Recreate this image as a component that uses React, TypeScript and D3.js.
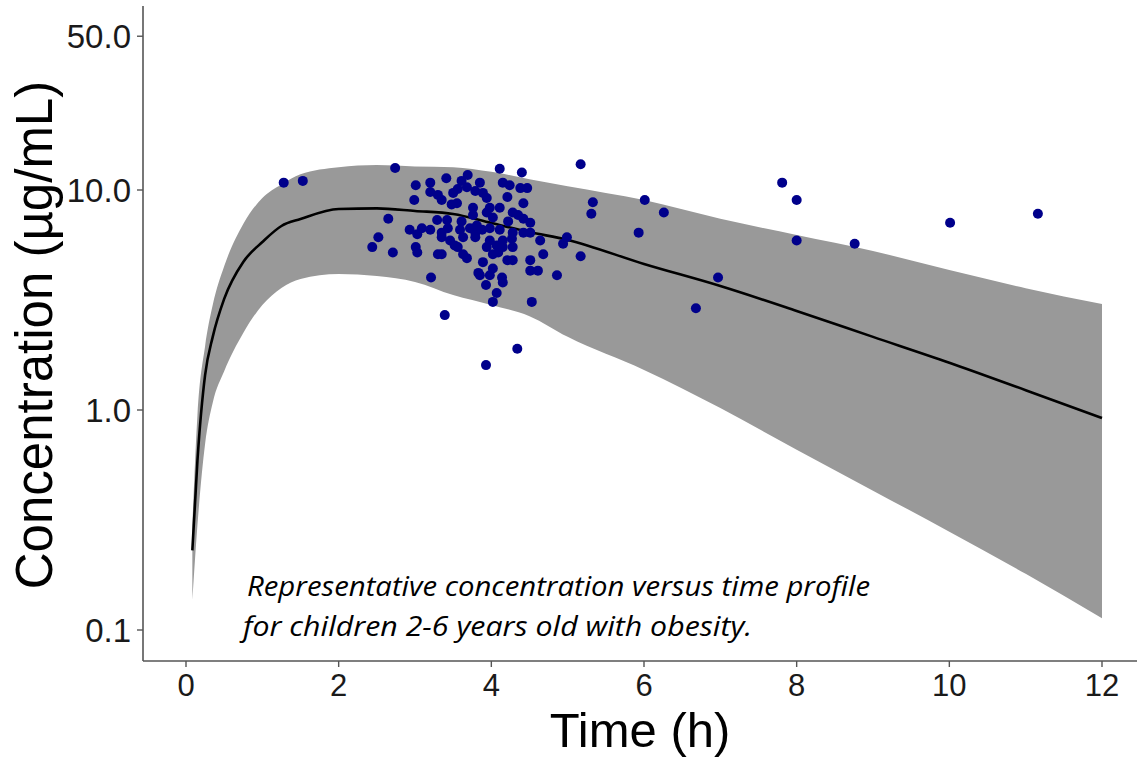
import React from 'react';
import * as d3 from 'd3';

// Simulated profile (time in h, concentration in µg/mL)
const times = [0.083, 0.15, 0.25, 0.35, 0.5, 0.75, 1, 1.25, 1.5, 2, 2.5, 3, 3.5, 4, 4.5, 5, 6, 7, 8, 9, 10, 11, 12];
const median = [0.23, 0.59, 1.44, 2.15, 3.2, 4.71, 5.8, 6.86, 7.38, 8.2, 8.25, 8.03, 7.78, 7.08, 6.44, 5.93, 4.61, 3.66, 2.82, 2.15, 1.64, 1.23, 0.92];
const upper = [0.3, 0.95, 1.95, 3.0, 4.5, 7.0, 9.2, 10.6, 11.8, 12.7, 13.0, 12.8, 12.7, 12.1, 11.2, 10.4, 9.0, 7.4, 6.24, 5.28, 4.33, 3.58, 3.03];
const lower = [0.137, 0.3, 0.7, 1.08, 1.5, 2.24, 3.0, 3.59, 3.94, 4.15, 4.06, 3.82, 3.33, 3.0, 2.67, 2.15, 1.52, 1.02, 0.66, 0.43, 0.28, 0.18, 0.113];

// Observed data
const obsTime = [
  1.28, 1.53, 2.74, 2.44, 2.52, 2.65, 2.71, 2.93, 2.99, 3.01, 3.03, 3.01, 3.03, 3.09, 3.2, 3.2, 3.2, 3.21,
  3.29, 3.3, 3.3, 3.35, 3.35, 3.35, 3.35, 3.41, 3.42, 3.43, 3.46, 3.39, 3.48, 3.5, 3.52, 3.55, 3.56, 3.56,
  3.59, 3.61, 3.61, 3.63, 3.63, 3.69, 3.68, 3.68, 3.72, 3.76, 3.76, 3.79, 3.79, 3.79, 3.81, 3.83, 3.85, 3.85,
  3.88, 3.89, 3.89, 3.93, 3.94, 3.94, 3.94, 3.98, 3.98, 3.98, 3.98, 4.02, 4.02, 4.02, 4.02, 4.07, 4.07, 4.09,
  4.11, 4.11, 4.11, 4.14, 4.15, 4.15, 4.15, 4.15, 4.21, 4.21, 4.22, 4.24, 4.27, 4.28, 4.28, 4.28, 4.28, 4.34,
  4.35, 4.38, 4.4, 4.42, 4.42, 4.42, 4.47, 4.51, 4.51, 4.51, 4.51, 4.53, 4.61, 4.64, 4.68, 3.93, 4.86, 4.94,
  4.99, 5.17, 5.17, 5.33, 5.31, 5.93, 6.01, 6.26, 6.68, 6.97, 7.81, 8.0, 8.0, 8.76, 10.01, 11.16
];
const obsConc = [
  10.8, 11.0, 12.6, 5.5, 6.1, 7.4, 5.2, 6.6, 9.0, 10.5, 6.3, 5.5, 5.2, 6.7, 10.8, 9.8, 6.6, 4.0,
  7.3, 9.5, 5.1, 9.0, 6.4, 6.1, 5.1, 11.3, 7.3, 6.7, 5.9, 2.7, 8.6, 9.7, 5.6, 8.7, 10.1, 5.5,
  6.6, 11.0, 7.2, 6.1, 5.1, 11.7, 10.3, 4.9, 6.7, 8.3, 7.7, 9.9, 6.4, 6.1, 6.9, 4.2, 10.8, 4.1,
  6.6, 9.7, 4.7, 3.7, 9.2, 7.9, 5.5, 8.3, 6.7, 5.9, 4.1, 7.5, 5.1, 4.4, 3.1, 5.6, 3.4, 5.2,
  12.5, 8.3, 6.6, 4.0, 10.8, 5.9, 5.5, 3.8, 9.3, 4.8, 7.2, 10.5, 6.0, 7.9, 6.4, 5.5, 4.8, 1.9,
  7.7, 10.2, 12.0, 8.7, 7.4, 6.4, 10.2, 7.1, 6.4, 4.8, 4.3, 3.1, 4.3, 5.9, 5.1, 1.6, 4.1, 5.7,
  6.1, 13.1, 5.0, 8.8, 7.8, 6.4, 9.0, 7.9, 2.9, 4.0, 10.8, 9.0, 5.9, 5.7, 7.1, 7.8
];

const xTicks = [0, 2, 4, 6, 8, 10, 12];
const yTicks = [0.1, 1, 10, 50];
const annotationLines = [
  'Representative concentration versus time profile',
  'for children 2-6 years old with obesity.'
];

const W = 1138;
const H = 757;
const panel = { left: 143, right: 1137, top: 6, bottom: 661 };

export default function App() {
  const x = d3.scaleLinear().domain([0, 12]).range([186, 1102]);
  const y = d3.scaleLog().domain([1, 10]).range([410, 190]);

  const band = d3
    .area<number>()
    .x((_, i) => x(times[i]))
    .y0((_, i) => y(lower[i]))
    .y1((_, i) => y(upper[i]))
    .curve(d3.curveMonotoneX);
  const line = d3
    .line<number>()
    .x((_, i) => x(times[i]))
    .y((d) => y(d))
    .curve(d3.curveMonotoneX);

  const axisFont = '"Liberation Sans", Arial, sans-serif';

  return (
    <svg width={W} height={H} style={{ position: 'absolute', left: 0, top: 0, background: '#fff' }}>
      <path d={band(times) || ''} fill="#999999" />
      <path d={line(median) || ''} fill="none" stroke="#000" strokeWidth={2.6} />
      {obsTime.map((t, i) => (
        <circle key={i} cx={x(t)} cy={y(obsConc[i])} r={5} fill="#00008B" />
      ))}

      {/* axes */}
      <line x1={panel.left} x2={panel.left} y1={panel.top} y2={panel.bottom} stroke="#555" strokeWidth={1.6} />
      <line x1={panel.left} x2={panel.right} y1={panel.bottom} y2={panel.bottom} stroke="#555" strokeWidth={1.6} />
      {yTicks.map((v) => (
        <g key={v}>
          <line x1={panel.left - 6} x2={panel.left} y1={y(v)} y2={y(v)} stroke="#555" strokeWidth={1.4} />
          <text x={panel.left - 12} y={y(v)} dy="0.36em" textAnchor="end" fontFamily={axisFont} fontSize={33} fill="#1a1a1a">
            {d3.format('.1f')(v)}
          </text>
        </g>
      ))}
      {xTicks.map((v) => (
        <g key={v}>
          <line x1={x(v)} x2={x(v)} y1={panel.bottom} y2={panel.bottom + 6} stroke="#555" strokeWidth={1.4} />
          <text x={x(v)} y={696} textAnchor="middle" fontFamily={axisFont} fontSize={31} fill="#1a1a1a">
            {v}
          </text>
        </g>
      ))}
      <text x={(panel.left + panel.right) / 2} y={747} textAnchor="middle" fontFamily={axisFont} fontSize={49} fill="#000">
        Time (h)
      </text>
      <text
        transform={`translate(52, 335) rotate(-90)`}
        textAnchor="middle"
        fontFamily={axisFont}
        fontSize={51}
        fill="#000"
      >
        Concentration (µg/mL)
      </text>

      <text x={247} y={596} fontFamily='"Open Sans", sans-serif' fontStyle="italic" fontSize={27} fill="#000" textLength={623} lengthAdjust="spacingAndGlyphs">
        {annotationLines[0]}
      </text>
      <text x={243} y={636} fontFamily='"Open Sans", sans-serif' fontStyle="italic" fontSize={27} fill="#000" textLength={509} lengthAdjust="spacingAndGlyphs">
        {annotationLines[1]}
      </text>
    </svg>
  );
}
